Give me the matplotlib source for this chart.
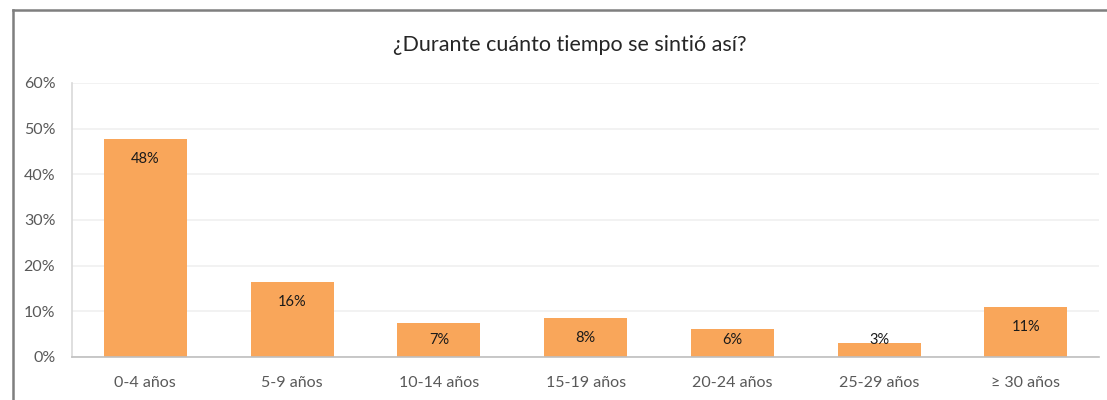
import numpy as np
import matplotlib
matplotlib.use('Agg')
from matplotlib import pyplot as plt
from matplotlib.lines import Line2D
from matplotlib.ticker import PercentFormatter

plt.rcParams['font.family'] = ['Lato', 'DejaVu Sans']

categorias = ['0-4 años', '5-9 años', '10-14 años', '15-19 años', '20-24 años', '25-29 años', '≥ 30 años']
valores = [0.477, 0.165, 0.074, 0.085, 0.061, 0.031, 0.109]
etiquetas = ['48%', '16%', '7%', '8%', '6%', '3%', '11%']

fig = plt.figure(figsize=(11.07, 4.0), dpi=100)
ax = fig.add_axes([0.065, 0.1075, 0.928, 0.685])

x = np.arange(len(categorias))
ax.bar(x, valores, width=0.566, color='#F9A65A', zorder=2)

# etiquetas dentro de la barra, cerca del extremo
for xi, v, t in zip(x, valores, etiquetas):
    yl = max(v - 0.044, 0.037)
    ax.text(xi, yl, t, ha='center', va='center', fontsize=10.5, color='#1a1a1a', zorder=3)

ax.set_xlim(-0.5, len(categorias) - 0.5)
ax.set_ylim(0, 0.6)
ax.set_yticks(np.arange(0, 0.61, 0.1))
ax.yaxis.set_major_formatter(PercentFormatter(1.0, decimals=0))
ax.set_xticks(x)
ax.set_xticklabels(categorias)
ax.tick_params(axis='both', length=0, labelsize=11.5, colors='#595959')
ax.tick_params(axis='x', pad=14)
ax.tick_params(axis='y', pad=12)

ax.grid(axis='y', color='#f0f0f0', linewidth=1.2, zorder=0)
ax.set_axisbelow(True)
for s in ['top', 'right']:
    ax.spines[s].set_visible(False)
ax.spines['left'].set_color('#d9d9d9')
ax.spines['left'].set_linewidth(1.2)
ax.spines['bottom'].set_color('#bfbfbf')
ax.spines['bottom'].set_linewidth(1.2)

fig.text(0.515, 0.888, '¿Durante cuánto tiempo se sintió así?', ha='center', va='center',
         fontsize=15.5, color='#262626')

# marco del grafico
fig.add_artist(Line2D([13/1107, 13/1107], [0, 1 - 10/400], color='#7f7f7f', linewidth=1.8))
fig.add_artist(Line2D([13/1107, 1], [1 - 10/400, 1 - 10/400], color='#7f7f7f', linewidth=1.8))

fig.savefig('out.png', dpi=100)
